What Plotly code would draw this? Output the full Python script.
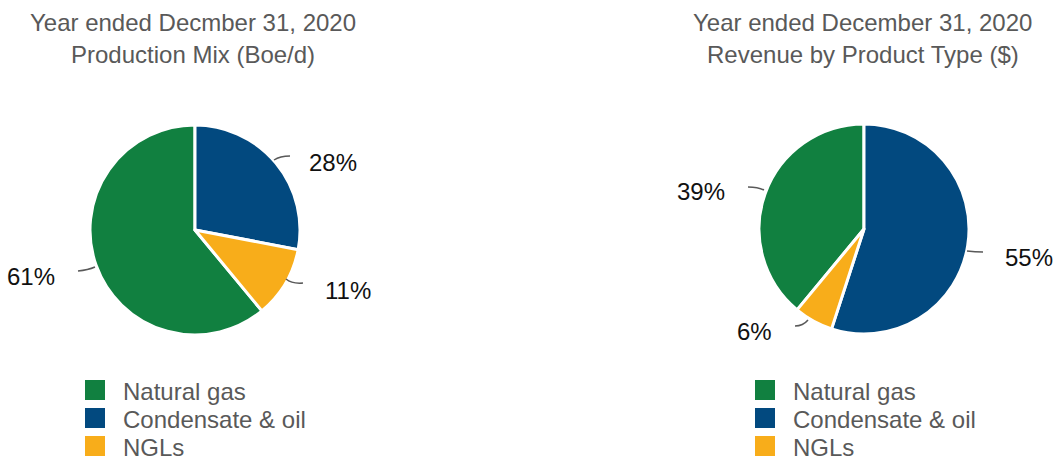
import plotly.graph_objects as go

W, H = 1053, 456

# ---- data ----
labels = ["Natural gas", "Condensate & oil", "NGLs"]
production_mix = [61, 28, 11]      # % of Boe/d
revenue_mix = [39, 55, 6]          # % of revenue ($)
colors = ["#118040", "#02497f", "#f8ad1a"]
title_left = ["Year ended Decmber 31, 2020", "Production Mix (Boe/d)"]
title_right = ["Year ended December 31, 2020", "Revenue by Product Type ($)"]

FONT = "Liberation Sans, Arial, sans-serif"
GREY = "#595959"


def px(x, y):
    return x / W, 1 - y / H


def rot(vals):
    # first slice (Natural gas) ends at 12 o'clock, slices run clockwise
    r = -vals[0] / sum(vals) * 360
    while r < -180:
        r += 360
    return r


fig = go.Figure()

# pie geometry (pixels): centre and radius
pies = [
    dict(vals=production_mix, cx=195, cy=230, r=105),
    dict(vals=revenue_mix, cx=864, cy=229, r=105),
]
for p in pies:
    x0, y1 = px(p["cx"] - p["r"], p["cy"] - p["r"])
    x1, y0 = px(p["cx"] + p["r"], p["cy"] + p["r"])
    fig.add_trace(go.Pie(
        labels=labels, values=p["vals"], sort=False, direction="clockwise",
        rotation=rot(p["vals"]),
        marker=dict(colors=colors, line=dict(color="white", width=3)),
        textinfo="none", hoverinfo="label+percent", showlegend=False,
        domain=dict(x=[x0, x1], y=[y0, y1]),
    ))

annotations = []
shapes = []

# titles
for t, cx in ((title_left, 192.5), (title_right, 862.5)):
    for line, cy in zip(t, (22, 55)):
        x, y = px(cx, cy)
        annotations.append(dict(x=x, y=y, xref="paper", yref="paper", text=line,
                                showarrow=False, xanchor="center", yanchor="middle",
                                font=dict(family=FONT, size=24, color=GREY)))

# percentage labels (text from data), placement in pixels
label_pos = [
    # (value, x, y, xanchor)
    (production_mix[1], 307, 162, "left"),
    (production_mix[2], 323, 290, "left"),
    (production_mix[0], 57, 276, "right"),
    (revenue_mix[0], 727, 191.5, "right"),
    (revenue_mix[1], 1003, 257, "left"),
    (revenue_mix[2], 774, 331, "right"),
]
for v, x, y, xa in label_pos:
    xx, yy = px(x, y)
    annotations.append(dict(x=xx, y=yy, xref="paper", yref="paper", text=f"{v}%",
                            showarrow=False, xanchor=xa, yanchor="middle",
                            font=dict(family=FONT, size=24, color="#111111")))

# leader lines (quadratic curves, pixel coords)
leaders = [
    ((274, 160), (280, 156), (290, 156)),
    ((286, 279), (292, 284), (303, 283)),
    ((78, 271), (88, 270), (95, 267)),
    ((748, 187), (758, 187), (764, 190)),
    ((967, 251), (975, 252), (983, 252)),
    ((795, 326), (803, 326), (808, 320)),
]
for a, c, b in leaders:
    pa, pc, pb = px(*a), px(*c), px(*b)
    shapes.append(dict(type="path", xref="paper", yref="paper",
                       path=f"M {pa[0]},{pa[1]} Q {pc[0]},{pc[1]} {pb[0]},{pb[1]}",
                       line=dict(color=GREY, width=1.5)))

# legends (manual, one per pie)
for sx, tx in ((85, 121), (755, 791)):
    for i, (lab, col) in enumerate(zip(labels, colors)):
        cy = 390 + 28 * i
        x0, y1 = px(sx, cy - 10)
        x1, y0 = px(sx + 20, cy + 10)
        shapes.append(dict(type="rect", xref="paper", yref="paper",
                           x0=x0, x1=x1, y0=y0, y1=y1,
                           fillcolor=col, line=dict(width=0)))
        xx, yy = px(tx, cy + 1)
        annotations.append(dict(x=xx, y=yy, xref="paper", yref="paper", text=lab,
                                showarrow=False, xanchor="left", yanchor="middle",
                                font=dict(family=FONT, size=24, color=GREY)))

fig.update_layout(
    width=W, height=H, margin=dict(l=0, r=0, t=0, b=0),
    paper_bgcolor="white", plot_bgcolor="white",
    annotations=annotations, shapes=shapes, showlegend=False,
)

fig.write_html("out.html")
